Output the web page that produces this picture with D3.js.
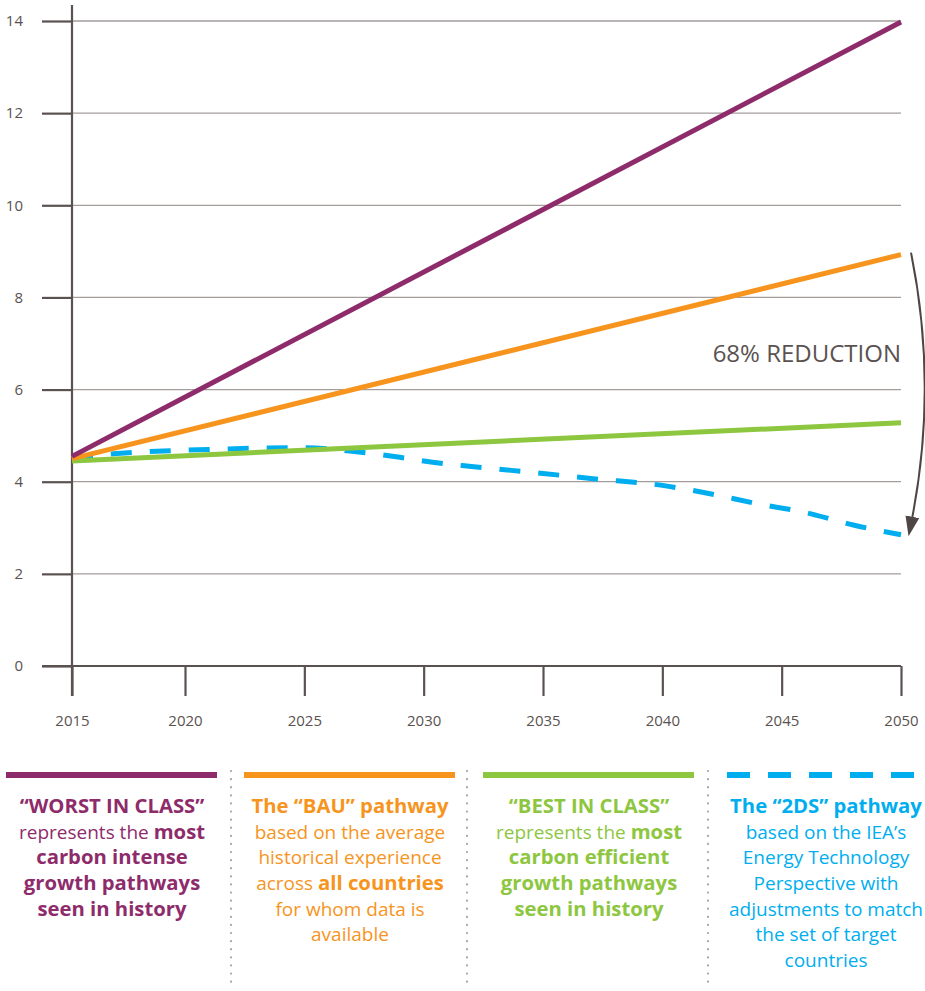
<!DOCTYPE html>
<html>
<head>
<meta charset="utf-8">
<script src="https://cdn.jsdelivr.net/npm/d3@7"></script>
<style>
  body { margin: 0; background: #fff; }
  svg { display: block; font-family: "Open Sans", "Noto Sans", sans-serif; }
</style>
</head>
<body>
<svg id="chart" width="925" height="991"></svg>
<script>
'use strict';

// ---- data ----
const xTicks = [2015, 2020, 2025, 2030, 2035, 2040, 2045, 2050];
const yTicks = [0, 2, 4, 6, 8, 10, 12, 14];

const lineYears = [2015, 2050];
const worstValues = [4.55, 13.98];
const bauValues = [4.50, 8.93];
const bestValues = [4.45, 5.28];

const tdsYears = [2015, 2017, 2021, 2025, 2027, 2029, 2030, 2032, 2035, 2037, 2040, 2042, 2044, 2046, 2048, 2050];
const tdsValues = [4.52, 4.61, 4.70, 4.74, 4.66, 4.53, 4.45, 4.33, 4.18, 4.07, 3.92, 3.74, 3.52, 3.33, 3.06, 2.85];

const reductionLabel = '68% REDUCTION';

const seriesColors = ['#8e2b6b', '#f7941d', '#8dc63f', '#00aeef'];
const seriesDashed = [false, false, false, true];

// legend text: each line is a list of [text, bold]
const legendLines = [
    [
        [['\u201cWORST IN CLASS\u201d', true]],
        [['represents the ', false], ['most', true]],
        [['carbon intense', true]],
        [['growth pathways', true]],
        [['seen in history', true]]
    ],
    [
        [['The \u201cBAU\u201d pathway', true]],
        [['based on the average', false]],
        [['historical experience', false]],
        [['across ', false], ['all countries', true]],
        [['for whom data is', false]],
        [['available', false]]
    ],
    [
        [['\u201cBEST IN CLASS\u201d', true]],
        [['represents the ', false], ['most', true]],
        [['carbon efficient', true]],
        [['growth pathways', true]],
        [['seen in history', true]]
    ],
    [
        [['The \u201c2DS\u201d pathway', true]],
        [['based on the IEA\u2019s', false]],
        [['Energy Technology', false]],
        [['Perspective with', false]],
        [['adjustments to match', false]],
        [['the set of target', false]],
        [['countries', false]]
    ]
];

// ---- layout ----
const axisColor = '#5a5250';
const gridColor = '#a39e9c';

const svg = d3.select('#chart');

// the first 5 year step is drawn a little narrower than the rest
const x = d3.scaleLinear().domain([2015, 2020, 2050]).range([72, 185, 901]);
const y = d3.scaleLinear().domain([0, 14]).range([666, 21]);

// gridlines
svg.append('g')
    .selectAll('line')
    .data(yTicks.filter(d => d > 0))
    .enter().append('line')
        .attr('x1', x(2015))
        .attr('x2', x(2050))
        .attr('y1', d => y(d))
        .attr('y2', d => y(d))
        .attr('stroke', gridColor)
        .attr('stroke-width', 1.3);

// y axis
let yAxis = svg.append('g')
    .attr('transform', 'translate(' + x(2015) + ',0)')
    .call(d3.axisLeft(y).tickValues(yTicks).tickSize(30).tickPadding(19));

// x axis
let xAxis = svg.append('g')
    .attr('transform', 'translate(0,' + y(0) + ')')
    .call(d3.axisBottom(x).tickValues(xTicks).tickFormat(d3.format('d')).tickSize(30).tickPadding(19));

[yAxis, xAxis].forEach(function(ax) {
    ax.select('.domain').remove();
    ax.selectAll('.tick line').attr('stroke', axisColor).attr('stroke-width', 2.2);
    ax.selectAll('.tick text')
        .attr('fill', axisColor)
        .style('font-size', '15px')
        .style('font-family', '"Open Sans", sans-serif');
});

// axis lines
svg.append('line')
    .attr('x1', x(2015)).attr('x2', x(2015))
    .attr('y1', y(14) - 16).attr('y2', y(0) + 30)
    .attr('stroke', axisColor).attr('stroke-width', 2.2);
svg.append('line')
    .attr('x1', x(2015) - 30).attr('x2', x(2050))
    .attr('y1', y(0)).attr('y2', y(0))
    .attr('stroke', axisColor).attr('stroke-width', 2.2);

// series lines
const series = [
    { years: lineYears, values: worstValues },
    { years: lineYears, values: bauValues },
    { years: lineYears, values: bestValues },
    { years: tdsYears, values: tdsValues }
];

const line = d3.line()
    .x(d => x(d[0]))
    .y(d => y(d[1]))
    .curve(d3.curveMonotoneX);

// draw dashed one first so green sits on top of it near the start
[3, 2, 1, 0].forEach(function(i) {
    let s = series[i];
    svg.append('path')
        .datum(d3.zip(s.years, s.values))
        .attr('d', line)
        .attr('fill', 'none')
        .attr('stroke', seriesColors[i])
        .attr('stroke-width', 5)
        .attr('stroke-dasharray', seriesDashed[i] ? '21,18' : null);
});

// reduction arrow from BAU 2050 down to 2DS 2050
svg.append('defs').append('marker')
    .attr('id', 'head')
    .attr('markerUnits', 'userSpaceOnUse')
    .attr('viewBox', '0 0 20 14')
    .attr('markerWidth', 20)
    .attr('markerHeight', 14)
    .attr('refX', 2)
    .attr('refY', 7)
    .attr('orient', 'auto')
    .append('path')
        .attr('d', 'M0,0 L20,7 L0,14 Z')
        .attr('fill', '#4e4644');

let ax0 = x(2050) + 10, ay0 = y(bauValues[1]) - 2;
let ay1 = y(tdsValues[tdsValues.length - 1]) - 16;
svg.append('path')
    .attr('d', 'M' + ax0 + ',' + ay0 + ' Q' + (ax0 + 27) + ',' + ((ay0 + ay1) / 2) + ' ' + (ax0 + 1) + ',' + ay1)
    .attr('fill', 'none')
    .attr('stroke', '#4e4644')
    .attr('stroke-width', 2)
    .attr('marker-end', 'url(#head)');

svg.append('text')
    .attr('x', x(2050))
    .attr('y', y(6.6))
    .attr('text-anchor', 'end')
    .attr('fill', axisColor)
    .style('font-size', '24px')
    .text(reductionLabel);

// ---- legend ----
const legendStarts = [6, 244, 483, 727];
const legendWidth = 211;
const legendCenters = [112, 350, 589, 826];
const separatorXs = [231, 467, 708];
const legendTop = 775;

legendStarts.forEach(function(sx, i) {
    svg.append('line')
        .attr('x1', sx).attr('x2', sx + legendWidth)
        .attr('y1', legendTop).attr('y2', legendTop)
        .attr('stroke', seriesColors[i])
        .attr('stroke-width', 6)
        .attr('stroke-dasharray', seriesDashed[i] ? '23,18' : null);

    let txt = svg.append('text')
        .attr('text-anchor', 'middle')
        .attr('fill', seriesColors[i]);

    legendLines[i].forEach(function(segs, li) {
        let row = txt.append('tspan')
            .attr('x', legendCenters[i])
            .attr('y', 813 + li * 25.67);
        segs.forEach(function(seg) {
            row.append('tspan')
                .attr('font-weight', seg[1] ? 700 : 400)
                .style('font-size', seg[1] ? '20.3px' : '19px')
                .text(seg[0]);
        });
    });
});

svg.append('g')
    .selectAll('line')
    .data(separatorXs)
    .enter().append('line')
        .attr('x1', d => d).attr('x2', d => d)
        .attr('y1', 771).attr('y2', 986)
        .attr('stroke', '#aaa6a4')
        .attr('stroke-width', 2.2)
        .attr('stroke-linecap', 'round')
        .attr('stroke-dasharray', '0.1,8');
</script>
</body>
</html>
